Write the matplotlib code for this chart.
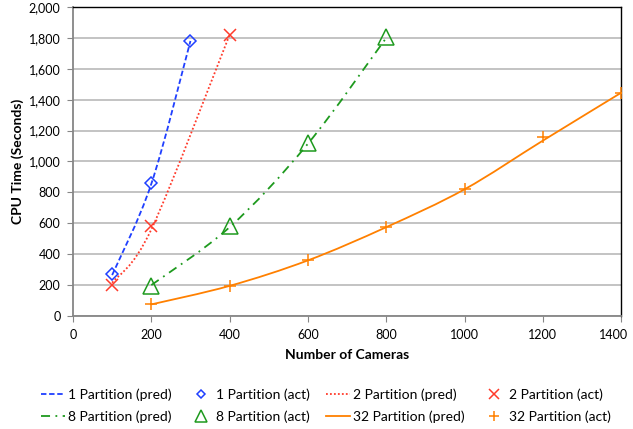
import matplotlib
matplotlib.use('Agg')
import matplotlib.pyplot as plt
from matplotlib.path import Path
from matplotlib.patches import PathPatch
from matplotlib.lines import Line2D
from matplotlib.ticker import FuncFormatter, MultipleLocator
from matplotlib.transforms import ScaledTranslation

plt.rcParams['font.family'] = ['Lato', 'DejaVu Sans']

# cameras / cpu time (seconds)
x1 = [100, 200, 300]
pred1 = [265, 855, 1780]
act1 = [270, 860, 1780]

x2 = [100, 200, 400]
pred2 = [215, 560, 1820]
act2 = [200, 580, 1820]

x8 = [200, 400, 600, 800]
pred8 = [200, 575, 1115, 1800]
act8 = [195, 580, 1120, 1805]

x32 = [200, 400, 600, 800, 1000, 1200, 1400]
pred32 = [75, 195, 360, 575, 820, 1135, 1445]
act32 = [80, 195, 360, 575, 820, 1160, 1445]

names = ['1 Partition', '2 Partition', '8 Partition', '32 Partition']
colors = ['#1F3FFF', '#FF3B2B', '#1E9A1E', '#FF8000']
dashes = [(3, 1.5), (1, 1.2), (5, 3, 1, 3), None]
markers = ['D', 'x', '^', '+']
msizes = [6, 9, 11, 9]


def smooth_path(xs, ys):
    # excel-like smoothed line, drawn as bezier segments
    pts = list(zip(xs, ys))
    verts = [pts[0]]
    codes = [Path.MOVETO]
    n = len(pts)
    for i in range(n - 1):
        p0 = pts[i - 1] if i > 0 else pts[i]
        p1 = pts[i]
        p2 = pts[i + 1]
        p3 = pts[i + 2] if i + 2 < n else pts[i + 1]
        c1 = (p1[0] + (p2[0] - p0[0]) / 6, p1[1] + (p2[1] - p0[1]) / 6)
        c2 = (p2[0] - (p3[0] - p1[0]) / 6, p2[1] - (p3[1] - p1[1]) / 6)
        verts += [c1, c2, p2]
        codes += [Path.CURVE4] * 3
    return Path(verts, codes)


fig = plt.figure(figsize=(6.33, 4.29), dpi=100)
ax = fig.add_axes([0.1153, 0.2634, 0.866, 0.7203])

data = [(x1, pred1, act1), (x2, pred2, act2), (x8, pred8, act8), (x32, pred32, act32)]
handles = []
for (xs, pred, act), name, c, d, m, ms in zip(data, names, colors, dashes, markers, msizes):
    patch = PathPatch(smooth_path(xs, pred), fill=False, edgecolor=c, linewidth=1.3, zorder=3)
    if d is not None:
        patch.set_linestyle((0, d))
    ax.add_patch(patch)
    ax.plot(xs, act, linestyle='none', marker=m, markersize=ms, markerfacecolor='none',
            markeredgecolor=c, markeredgewidth=1.1, zorder=4)
    lh = Line2D([], [], color=c, linewidth=1.3, label=name + ' (pred)')
    if d is not None:
        lh.set_dashes(d)
    mh = Line2D([], [], linestyle='none', marker=m, markersize=ms * 0.75, markerfacecolor='none',
                markeredgecolor=c, markeredgewidth=1.1, label=name + ' (act)')
    handles.append((lh, mh))

ax.set_xlim(0, 1400)
ax.set_ylim(0, 2000)
ax.xaxis.set_major_locator(MultipleLocator(200))
ax.yaxis.set_major_locator(MultipleLocator(200))
ax.yaxis.set_major_formatter(FuncFormatter(lambda v, p: '{:,.0f}'.format(v)))
ax.grid(axis='y', color='#BEBEBE', linewidth=1.3)
ax.set_axisbelow(True)

for s in ['left', 'bottom']:
    ax.spines[s].set_color('#868686')
    ax.spines[s].set_linewidth(1.3)
for s in ['top', 'right']:
    ax.spines[s].set_color('black')
    ax.spines[s].set_linewidth(1.0)
ax.tick_params(direction='out', length=4, color='#868686', labelsize=9, pad=5)

ax.set_xlabel('Number of Cameras', fontsize=10, fontweight='bold', labelpad=6)
ax.set_ylabel('CPU Time (Seconds)', fontsize=10, fontweight='bold', labelpad=3)

# legend: column-major fill, so order gives rows 1/2 and 8/32
order = [handles[0][0], handles[2][0], handles[0][1], handles[2][1],
         handles[1][0], handles[3][0], handles[1][1], handles[3][1]]
fig.legend(handles=order, loc='center', bbox_to_anchor=(0.515, 0.054), ncol=4,
           frameon=False, fontsize=10, handlelength=1.7, handletextpad=0.25,
           columnspacing=1.2, labelspacing=0.7)

# keep the last x label inside the figure
fig.canvas.draw()
for lab in ax.get_xticklabels():
    if lab.get_text() == '1400':
        lab.set_horizontalalignment('right')
        lab.set_transform(lab.get_transform() + ScaledTranslation(0.07, 0, fig.dpi_scale_trans))

fig.savefig('out.png', dpi=100)
